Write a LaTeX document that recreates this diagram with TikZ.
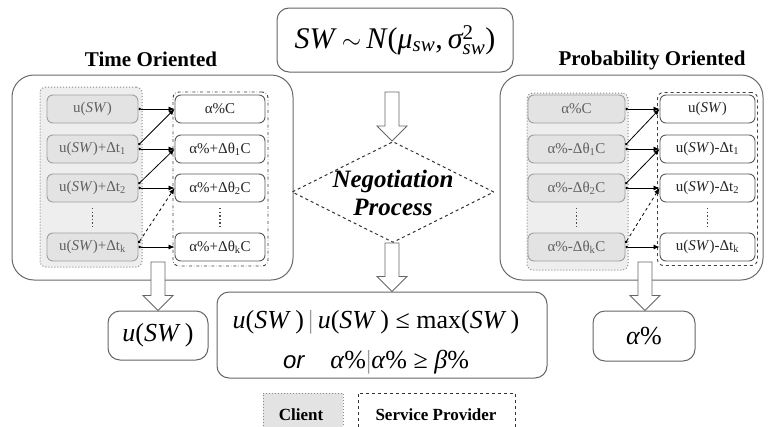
\documentclass[tikz,border=0pt]{standalone}
\usepackage{fontspec}
\usepackage{amsmath}
\setmainfont{Liberation Serif}
\setsansfont{Liberation Sans}
\usetikzlibrary{shapes.geometric,arrows.meta,calc}
\definecolor{cfill}{HTML}{E3E3E3}
\definecolor{gfill}{HTML}{EEEEEE}
\definecolor{outgray}{HTML}{6A6A6A}
\definecolor{dotgray}{HTML}{8A8A8A}
\newcommand\hollowarrow[2]{%
  \draw[hollow] let \p1=(#1), \p2=(#2) in
   (\x1-7pt,\y1) -- (\x1-7pt,\y2+15pt) -- (\x1-15pt,\y2+15pt) -- (\x1,\y2)
   -- (\x1+15pt,\y2+15pt) -- (\x1+7pt,\y2+15pt) -- (\x1+7pt,\y1) -- cycle;}
\begin{document}
\begin{tikzpicture}[x=1pt,y=-1pt,
  outerbox/.style={draw=outgray, line width=1pt, rounded corners=22pt, fill=white, inner sep=0pt},
  cgroup/.style={draw=dotgray, dotted, line width=1pt, fill=gfill, rounded corners=6pt, inner sep=0pt},
  spgroupA/.style={draw=black!75, dash dot, line width=0.9pt, rounded corners=6pt, inner sep=0pt},
  spgroupB/.style={draw=black!75, dashed, line width=0.9pt, rounded corners=6pt, inner sep=0pt},
  cbox/.style={draw=gray!75, fill=cfill, rounded corners=6pt, minimum height=28pt, inner sep=0pt,
    font=\fontsize{15}{17}\selectfont, text=black!62, line width=0.9pt},
  sbox/.style={draw=black!65, fill=white, rounded corners=6pt, minimum height=28pt, inner sep=0pt,
    font=\fontsize{15}{17}\selectfont, text=black!85, line width=0.9pt},
  sarrow/.style={line width=0.8pt, {Circle[length=2.6pt]}-{Latex[length=6pt,width=5pt]}},
  resbox/.style={draw=black!60, rounded corners=12pt, fill=white, line width=1pt, inner sep=0pt},
  hollow/.style={draw=black!60, fill=white, line width=0.9pt},
  dotcol/.style={line width=1.6pt, dash pattern=on 1.4pt off 2.2pt, draw=black!70},
  lab/.style={font=\bfseries\fontsize{21}{24}\selectfont}
]
\clip (0,0) rectangle (768,426);
\useasboundingbox (0,0) rectangle (768,426);

% ---------- top ----------
\node[resbox, minimum width=236pt, minimum height=64pt] (title) at (395,40)
  {\fontsize{30}{32}\selectfont \textit{SW}\,$\sim$\,\textit{N}(\textit{μ}$_{\text{\itshape sw}}$,\,$\text{\itshape σ}^{\text{2}}_{\text{\itshape sw}}$)};

\node[lab] (tlab) at (151,59) {Time Oriented};
\node[lab] (plab) at (652,60) {Probability Oriented};

% ---------- left: time oriented ----------
\node[outerbox, minimum width=281pt, minimum height=205pt] (outL) at (152.5,177.5) {};
\node[cgroup, minimum width=102pt, minimum height=180pt] (cgL) at (91,177) {};
\node[spgroupA, minimum width=95pt, minimum height=174pt] (sgL) at (220.5,179) {};

\node[cbox, minimum width=91pt] (cL1) at (92.5,109) {u(\textit{SW})};
\node[cbox, minimum width=91pt] (cL2) at (92.5,149) {u(\textit{SW})+Δt\textsubscript{1}};
\node[cbox, minimum width=91pt] (cL3) at (92.5,188) {u(\textit{SW})+Δt\textsubscript{2}};
\node[cbox, minimum width=91pt] (cL5) at (92.5,247) {u(\textit{SW})+Δt\textsubscript{k}};

\node[sbox, minimum width=90pt] (sL1) at (220,109) {α\%C};
\node[sbox, minimum width=90pt] (sL2) at (220,149) {α\%+Δθ\textsubscript{1}C};
\node[sbox, minimum width=90pt] (sL3) at (220,188) {α\%+Δθ\textsubscript{2}C};
\node[sbox, minimum width=90pt] (sL5) at (220,247) {α\%+Δθ\textsubscript{k}C};

\draw[dotcol] (92.5,208) -- (92.5,229);
\draw[dotcol] (220,208) -- (220,229);

\draw[sarrow] (cL1.east) -- (sL1.west);
\draw[sarrow] (cL2.east) -- (sL2.west);
\draw[sarrow] (cL3.east) -- (sL3.west);
\draw[sarrow] (cL5.east) -- (sL5.west);
\draw[sarrow] ($(cL2.east)+(0,-4)$) -- (sL1.west);
\draw[sarrow] ($(cL3.east)+(0,-4)$) -- (sL2.west);
\draw[sarrow, dashed] ($(cL5.east)+(0,-4)$) -- (sL3.west);

% ---------- right: probability oriented ----------
\node[outerbox, minimum width=263pt, minimum height=205pt] (outR) at (631.5,177.5) {};
\node[cgroup, minimum width=101pt, minimum height=177pt] (cgR) at (577.5,181.5) {};
\node[spgroupB, minimum width=100pt, minimum height=173pt] (sgR) at (707.5,179) {};

\node[cbox, minimum width=97pt] (cR1) at (576.5,109) {α\%C};
\node[cbox, minimum width=97pt] (cR2) at (576.5,149) {α\%-Δθ\textsubscript{1}C};
\node[cbox, minimum width=97pt] (cR3) at (576.5,188) {α\%-Δθ\textsubscript{2}C};
\node[cbox, minimum width=97pt] (cR5) at (576.5,247) {α\%-Δθ\textsubscript{k}C};

\node[sbox, minimum width=95pt] (sR1) at (707.5,109) {u(\textit{SW})};
\node[sbox, minimum width=95pt] (sR2) at (707.5,149) {u(\textit{SW})-Δt\textsubscript{1}};
\node[sbox, minimum width=95pt] (sR3) at (707.5,188) {u(\textit{SW})-Δt\textsubscript{2}};
\node[sbox, minimum width=95pt] (sR5) at (707.5,247) {u(\textit{SW})-Δt\textsubscript{k}};

\draw[dotcol] (576.5,208) -- (576.5,229);
\draw[dotcol] (707.5,208) -- (707.5,229);

\draw[sarrow] (cR1.east) -- (sR1.west);
\draw[sarrow] (cR2.east) -- (sR2.west);
\draw[sarrow] (cR3.east) -- (sR3.west);
\draw[sarrow] (cR5.east) -- (sR5.west);
\draw[sarrow] ($(cR2.east)+(0,-4)$) -- (sR1.west);
\draw[sarrow] ($(cR3.east)+(0,-4)$) -- (sR2.west);
\draw[sarrow, dashed] ($(cR5.east)+(0,-4)$) -- (sR3.west);

% ---------- negotiation ----------
\node[diamond, draw=black!80, dashed, line width=1pt, minimum width=202pt, minimum height=101pt,
  inner sep=0pt] (diam) at (393,192) {};
\node[font=\bfseries\itshape\fontsize{25}{28}\selectfont, align=center] (negtxt) at (393,193)
  {Negotiation\\Process};

% ---------- results ----------
\node[resbox, minimum width=330pt, minimum height=86pt] (res) at (382,335) {};
\node[font=\fontsize{26}{40}\selectfont, align=center] (restxt) at (376,342)
  {\textit{u}(\textit{SW}\,)\,{\color{black!40}|}\,\textit{u}(\textit{SW}\,) ≤ max(\textit{SW}\,)\\
   {\sffamily\itshape\fontsize{24}{24}\selectfont or}\quad \textit{α}\%{\color{black!40}|}\textit{α}\% ≥ \textit{β}\%};

\node[resbox, minimum width=100pt, minimum height=49pt, font=\fontsize{26}{28}\selectfont] (uSW) at (158,335.5)
  {\textit{u}(\textit{SW}\,)};
\node[resbox, minimum width=102pt, minimum height=50pt, font=\fontsize{26}{28}\selectfont] (alp) at (644,336)
  {\textit{α}\%};

% ---------- hollow arrows ----------
\coordinate (aT) at (392,92);
\coordinate (aB) at (392,243);
\coordinate (aL) at (158,262);
\coordinate (aR) at (645,262);
\hollowarrow{aT}{diam.north}
\hollowarrow{aB}{res.north}
\hollowarrow{aL}{uSW.north}
\hollowarrow{aR}{alp.north}

% ---------- legend ----------
\node[draw=dotgray, dotted, line width=1pt, fill=cfill, minimum width=80pt, minimum height=45pt,
  inner sep=0pt] (legC) at (303,415.5) {};
\node[font=\bfseries\fontsize{17}{19}\selectfont, anchor=base] (legCt) at (301,420) {Client};
\node[draw=black!80, dashed, line width=1pt, minimum width=157pt, minimum height=45pt,
  inner sep=0pt] (legS) at (436.5,415.5) {};
\node[font=\bfseries\fontsize{17}{19}\selectfont, anchor=base] (legSt) at (436,420) {Service Provider};
\end{tikzpicture}
\end{document}
